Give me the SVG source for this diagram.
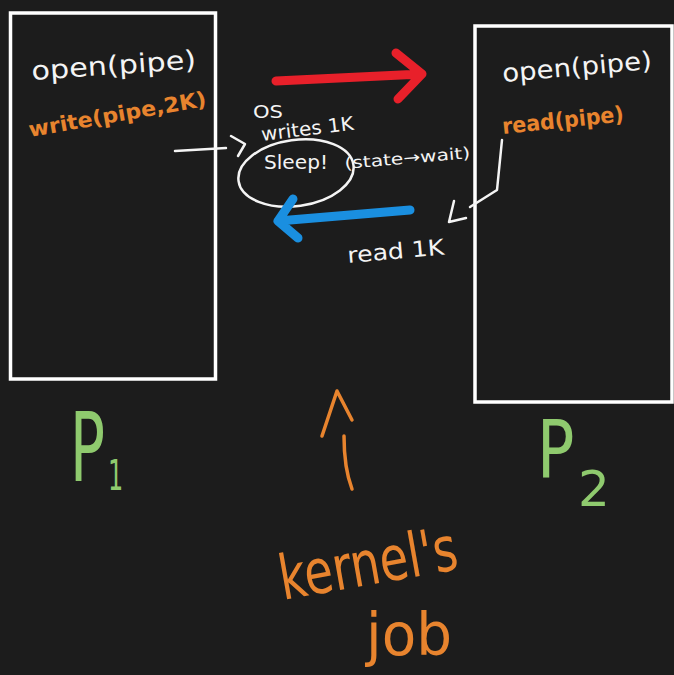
<svg xmlns="http://www.w3.org/2000/svg" width="674" height="675" viewBox="0 0 674 675">
<style>
.bg{fill:#1c1c1c}
.box{fill:none;stroke:#ffffff;stroke-width:3.5}
.wl{fill:none;stroke:#f4f4f4;stroke-width:2.5;stroke-linecap:round;stroke-linejoin:round}
.ol{fill:none;stroke:#e8842e;stroke-width:3.5;stroke-linecap:round;stroke-linejoin:round}
.red{fill:none;stroke:#e8202a;stroke-width:9;stroke-linecap:round;stroke-linejoin:round}
.blue{fill:none;stroke:#1a8fe0;stroke-width:9;stroke-linecap:round;stroke-linejoin:round}
text{font-family:"DejaVu Sans","Noto Sans",sans-serif}
.w{fill:#f4f4f4}
.o{fill:#e8842e}
.g{fill:#8fca6e}
</style>
<rect class="bg" x="0" y="0" width="674" height="675"/>

<g id="p1">
  <rect class="box" x="10.5" y="13" width="205" height="366"/>
  <text class="w" x="32" y="80" font-size="26" textLength="165" lengthAdjust="spacingAndGlyphs" transform="rotate(-4 32 80)">open(pipe)</text>
  <text class="o" x="30" y="137" font-size="21" font-weight="bold" textLength="180" lengthAdjust="spacingAndGlyphs" transform="rotate(-10 30 137)">write(pipe,2K)</text>
  <text class="g" font-size="58" transform="translate(70,481) scale(1,1.65)">P</text>
  <text class="g" font-size="24" transform="translate(108,490) scale(1,1.8)">1</text>
</g>

<g id="p2">
  <rect class="box" x="475" y="26" width="197" height="376"/>
  <text class="w" x="503" y="82" font-size="25" textLength="150" lengthAdjust="spacingAndGlyphs" transform="rotate(-5 503 82)">open(pipe)</text>
  <text class="o" x="503" y="134" font-size="22" font-weight="bold" textLength="122" lengthAdjust="spacingAndGlyphs" transform="rotate(-6 503 134)">read(pipe)</text>
  <text class="g" font-size="62" transform="translate(537,478) scale(1,1.3)">P</text>
  <text class="g" x="578" y="506" font-size="50">2</text>
</g>

<g id="os">
  <text class="w" x="253" y="118" font-size="17" textLength="30" lengthAdjust="spacingAndGlyphs">OS</text>
  <text class="w" x="262" y="141" font-size="19" textLength="93" lengthAdjust="spacingAndGlyphs" transform="rotate(-7 262 141)">writes 1K</text>
  <text class="w" x="264" y="169" font-size="20" textLength="64" lengthAdjust="spacingAndGlyphs">Sleep!</text>
  <text class="w" x="345" y="169" font-size="16" textLength="126" lengthAdjust="spacingAndGlyphs" transform="rotate(-5 345 169)">(state→wait)</text>
  <ellipse class="wl" cx="296" cy="173" rx="58" ry="33" transform="rotate(-8 296 173)"/>
  <text class="w" x="348" y="263" font-size="22" textLength="97" lengthAdjust="spacingAndGlyphs" transform="rotate(-5 348 263)">read 1K</text>
</g>

<g id="kernel">
  <path class="ol" d="M322,436 L337,391 L352,420"/>
  <path class="ol" d="M344,436 Q344,468 352,489"/>
  <text class="o" x="283" y="600" font-size="62" textLength="180" lengthAdjust="spacingAndGlyphs" transform="rotate(-10 283 600)">kernel's</text>
  <text class="o" x="366" y="655" font-size="58" textLength="86" lengthAdjust="spacingAndGlyphs">job</text>
</g>

<g id="connectors">
  <path class="red" d="M276,81 L422,74 M396,53 L422,74 L398,99"/>
  <path class="blue" d="M410,210 L278,221 M293,199 L278,221 L298,238"/>
  <path class="wl" d="M175,151 L226,148 M231,136 L245,144 L238,156"/>
  <path class="wl" d="M502,140 L497,190 L470,207 M454,201 L449,222 L466,218"/>
</g>
</svg>
